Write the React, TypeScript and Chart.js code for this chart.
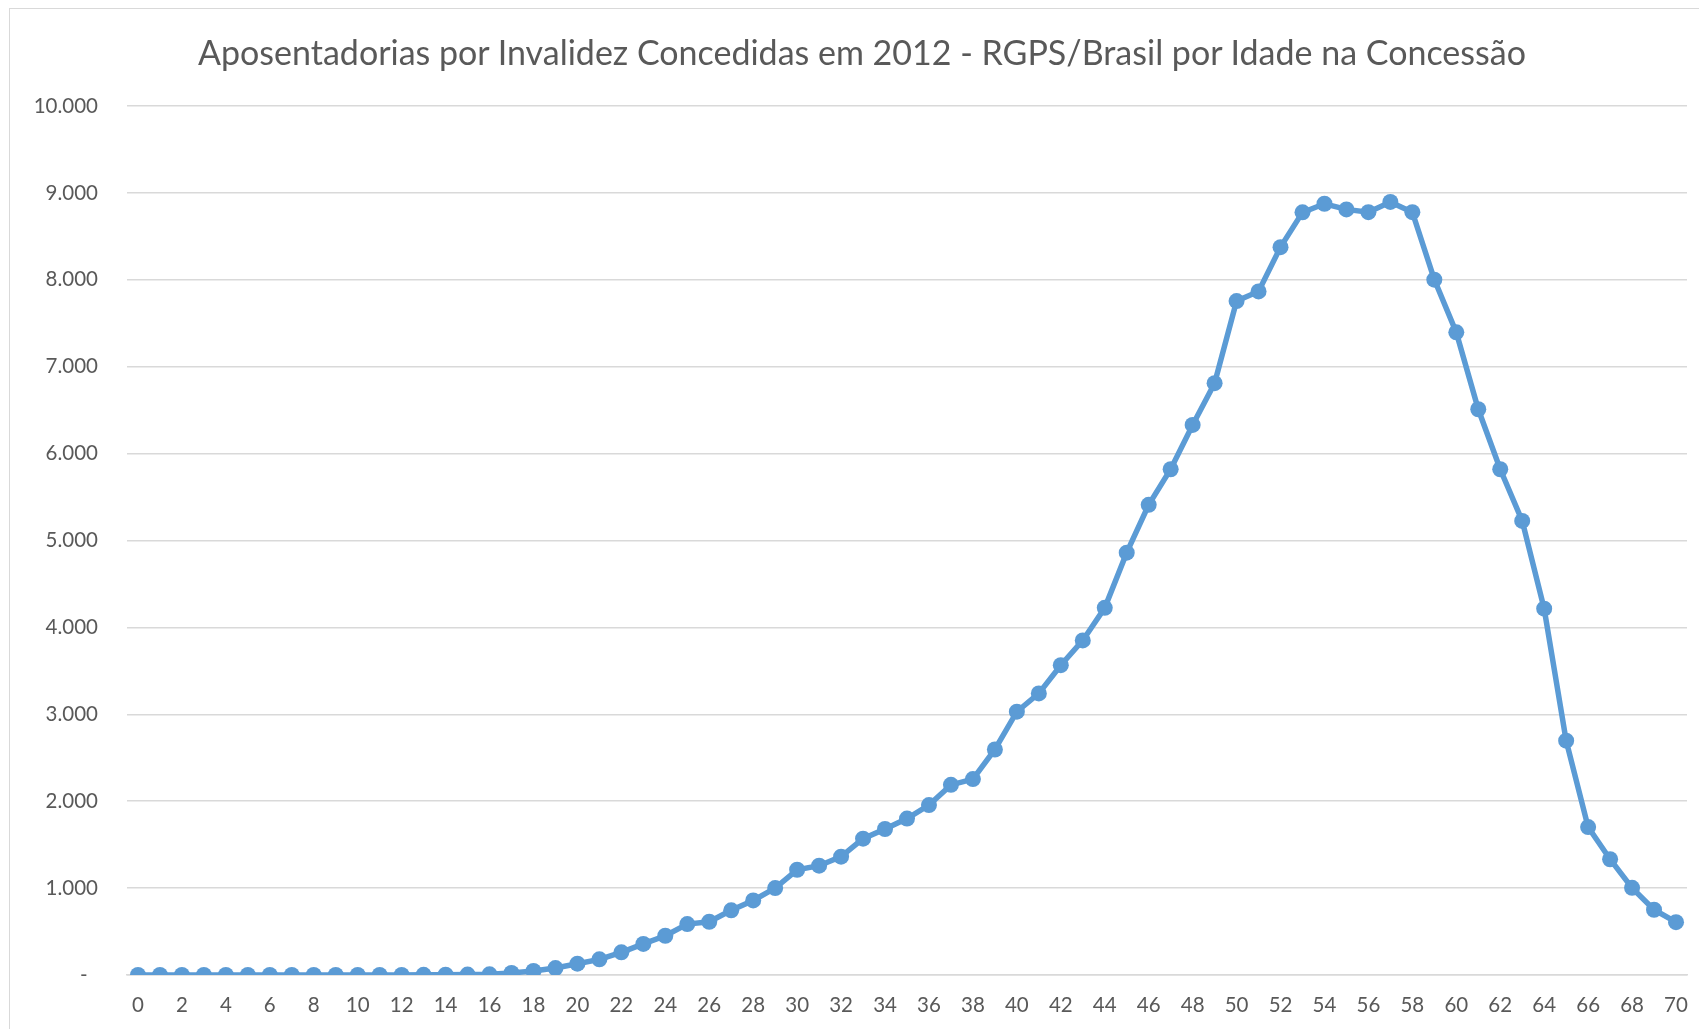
import React, { useEffect, useRef } from "react";
import { Chart, registerables } from "chart.js";

Chart.register(...registerables);

const TITLE = "Aposentadorias por Invalidez Concedidas em 2012 - RGPS/Brasil por Idade na Concessão";

const ages: string[] = [
  "0", "1", "2", "3", "4", "5", "6", "7", "8", "9",
  "10", "11", "12", "13", "14", "15", "16", "17", "18", "19",
  "20", "21", "22", "23", "24", "25", "26", "27", "28", "29",
  "30", "31", "32", "33", "34", "35", "36", "37", "38", "39",
  "40", "41", "42", "43", "44", "45", "46", "47", "48", "49",
  "50", "51", "52", "53", "54", "55", "56", "57", "58", "59",
  "60", "61", "62", "63", "64", "65", "66", "67", "68", "69",
  "70",
];

const concessions: number[] = [
  0, 0, 0, 0, 0, 0, 0, 0, 0, 0,
  0, 0, 0, 2, 3, 5, 8, 23, 46, 80,
  130, 180, 261, 358, 452, 586, 613, 744, 858, 1000,
  1211, 1258, 1362, 1569, 1680, 1800, 1955, 2188, 2255, 2595,
  3030, 3240, 3565, 3850, 4225, 4860, 5410, 5820, 6330, 6810,
  7755, 7866, 8376, 8776, 8875, 8810, 8778, 8896, 8778, 8002,
  7395, 6510, 5820, 5225, 4215, 2697, 1702, 1332, 1003, 751,
  608,
];

const yTicks: number[] = [0, 1000, 2000, 3000, 4000, 5000, 6000, 7000, 8000, 9000, 10000];

const fmt = (v: number) =>
  v === 0 ? "-  " : String(v).replace(/\B(?=(\d{3})+(?!\d))/g, ".");

export default function App() {
  const ref = useRef<HTMLCanvasElement | null>(null);

  useEffect(() => {
    document.body.style.overflow = "hidden";
    document.documentElement.style.overflow = "hidden";
    if (!ref.current) return;
    const chart = new Chart(ref.current, {
      type: "line",
      data: {
        labels: ages,
        datasets: [
          {
            data: concessions,
            borderColor: "#5b9bd5",
            backgroundColor: "#5b9bd5",
            borderWidth: 5.5,
            pointRadius: 8,
            pointBorderWidth: 0,
            pointBackgroundColor: "#5b9bd5",
            tension: 0,
            fill: false,
          },
        ],
      },
      options: {
        responsive: false,
        animation: false,
        layout: { padding: { left: 10, right: 12, top: 106, bottom: 12 } },
        plugins: {
          legend: { display: false },
          tooltip: { enabled: false },
          title: { display: false },
        },
        scales: {
          x: {
            type: "category",
            offset: true,
            afterFit: (s: any) => {
              s.height = 42;
              s.paddingLeft = 0;
              s.paddingRight = 0;
            },
            grid: { display: false, drawTicks: false },
            border: { display: true, color: "#d9d9d9", width: 1.5 },
            ticks: {
              autoSkip: false,
              maxRotation: 0,
              minRotation: 0,
              padding: 18,
              color: "#595959",
              font: { family: "Lato", size: 20.5 },
              callback: (_v: any, i: number) => (i % 2 === 0 ? ages[i] : ""),
            },
          },
          y: {
            min: 0,
            max: 10000,
            afterFit: (s: any) => {
              s.width = 117;
              s.paddingTop = 0;
              s.paddingBottom = 0;
            },
            afterBuildTicks: (s: any) => {
              s.ticks = yTicks.map((v) => ({ value: v }));
            },
            grid: { color: "#d9d9d9", lineWidth: 1.5, drawTicks: false },
            border: { display: false },
            ticks: {
              padding: 29,
              color: "#595959",
              font: { family: "Lato", size: 20.5 },
              callback: (v: any) => fmt(Number(v)),
            },
          },
        },
      },
    });
    return () => chart.destroy();
  }, []);

  return (
    <div style={{ position: "fixed", left: 0, top: 0, width: 1699, height: 1029, background: "#fff" }}>
      <canvas ref={ref} width={1699} height={1029} style={{ width: 1699, height: 1029, display: "block" }} />
      <div
        style={{
          position: "absolute",
          left: 0,
          top: 31,
          width: 1724,
          height: 41,
          lineHeight: "41px",
          textAlign: "center",
          whiteSpace: "nowrap",
          fontFamily: "Lato",
          fontSize: 34,
          color: "#595959",
        }}
      >
        {TITLE}
      </div>
      <div
        style={{
          position: "fixed",
          left: 9,
          top: 8,
          width: 1720,
          height: 1060,
          border: "1px solid #d9d9d9",
          pointerEvents: "none",
        }}
      />
    </div>
  );
}
